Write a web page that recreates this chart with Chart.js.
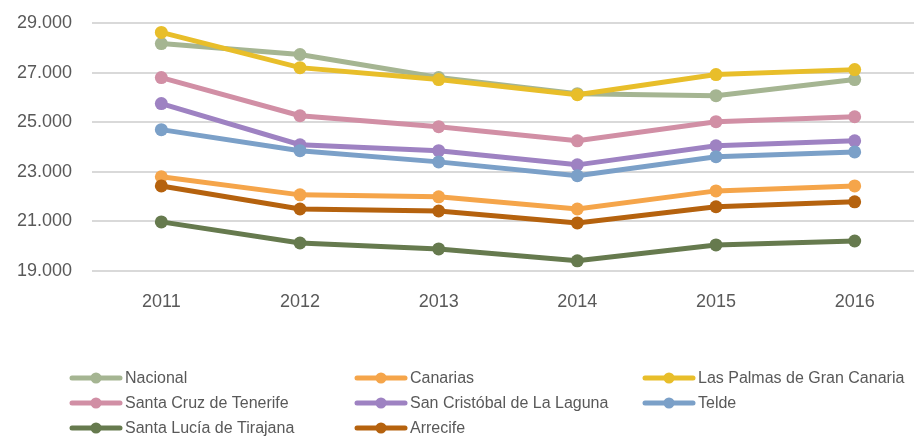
<!DOCTYPE html>
<html>
<head>
<meta charset="utf-8">
<script src="https://cdn.jsdelivr.net/npm/chart.js@4/dist/chart.umd.min.js"></script>
<style>
  html, body { margin: 0; padding: 0; background: #fff; overflow: hidden; }
  #wrap { width: 940px; height: 437px; }
</style>
</head>
<body>
<div id="wrap"><canvas id="chart" width="940" height="437"></canvas></div>
<script>
const years = ['2011', '2012', '2013', '2014', '2015', '2016'];
const seriesNames = [
  'Nacional', 'Canarias', 'Las Palmas de Gran Canaria',
  'Santa Cruz de Tenerife', 'San Cristóbal de La Laguna', 'Telde',
  'Santa Lucía de Tirajana', 'Arrecife'
];
const nacional = [28170, 27730, 26800, 26150, 26070, 26720];
const canarias = [22800, 22070, 21990, 21500, 22230, 22430];
const lasPalmas = [28620, 27200, 26720, 26110, 26920, 27120];
const santaCruz = [26800, 25260, 24820, 24250, 25020, 25220];
const sanCristobal = [25750, 24090, 23850, 23280, 24050, 24250];
const telde = [24700, 23850, 23400, 22840, 23610, 23800];
const santaLucia = [20980, 20130, 19890, 19410, 20050, 20210];
const arrecife = [22430, 21500, 21420, 20940, 21590, 21790];
const yTicks = [19000, 21000, 23000, 25000, 27000, 29000];

const values = [nacional, canarias, lasPalmas, santaCruz, sanCristobal, telde, santaLucia, arrecife];
const colors = ['#A5B592', '#F5A54A', '#E8BE2A', '#D18FA5', '#9E82C2', '#7BA0C8', '#667A4E', '#B5620E'];

const datasets = values.map((v, i) => ({
  label: seriesNames[i],
  data: v,
  borderColor: colors[i],
  backgroundColor: colors[i],
  borderWidth: 5,
  pointRadius: 6.5,
  pointHoverRadius: 6.5,
  pointBorderWidth: 0,
  tension: 0,
  order: values.length - i
}));

// legend drawn in 3 columns below the plot
const gridLegend = {
  id: 'gridLegend',
  afterDraw(chart) {
    const ctx = chart.ctx;
    const colX = [70, 355, 643];
    const rowY = [378, 403, 428];
    ctx.save();
    ctx.font = '16px "Liberation Sans", Arial, sans-serif';
    ctx.textBaseline = 'middle';
    ctx.textAlign = 'left';
    chart.data.datasets.forEach((ds, i) => {
      const x = colX[i % 3];
      const y = rowY[Math.floor(i / 3)];
      ctx.strokeStyle = ds.borderColor;
      ctx.lineWidth = 5;
      ctx.lineCap = 'round';
      ctx.beginPath();
      ctx.moveTo(x + 2, y);
      ctx.lineTo(x + 50, y);
      ctx.stroke();
      ctx.fillStyle = ds.borderColor;
      ctx.beginPath();
      ctx.arc(x + 26, y, 5.5, 0, Math.PI * 2);
      ctx.fill();
      ctx.fillStyle = '#595959';
      ctx.fillText(ds.label, x + 55, y + 1);
    });
    ctx.restore();
  }
};

new Chart(document.getElementById('chart'), {
  type: 'line',
  data: { labels: years, datasets: datasets },
  plugins: [gridLegend],
  options: {
    responsive: false,
    animation: false,
    layout: { padding: { top: 23, right: 16, left: 0, bottom: 0 } },
    plugins: { legend: { display: false }, tooltip: { enabled: false } },
    scales: {
      x: {
        offset: true,
        grid: { display: false, drawTicks: false },
        border: { display: false },
        ticks: {
          color: '#595959',
          padding: 20,
          font: { family: '"Liberation Sans", Arial, sans-serif', size: 18 }
        },
        afterFit(scale) { scale.height = 166; }
      },
      y: {
        min: 19000,
        max: 29000,
        afterBuildTicks(scale) { scale.ticks = yTicks.map(v => ({ value: v })); },
        grid: { color: '#D9D9D9', lineWidth: 2, drawTicks: false },
        border: { display: false },
        ticks: {
          color: '#595959',
          padding: 20,
          font: { family: '"Liberation Sans", Arial, sans-serif', size: 18 },
          callback: v => v.toString().replace(/\B(?=(\d{3})+(?!\d))/g, '.')
        },
        afterFit(scale) {
          scale.width = 92;
          scale.paddingTop = 0;
          scale.paddingBottom = 0;
        }
      }
    }
  }
});
</script>
</body>
</html>
